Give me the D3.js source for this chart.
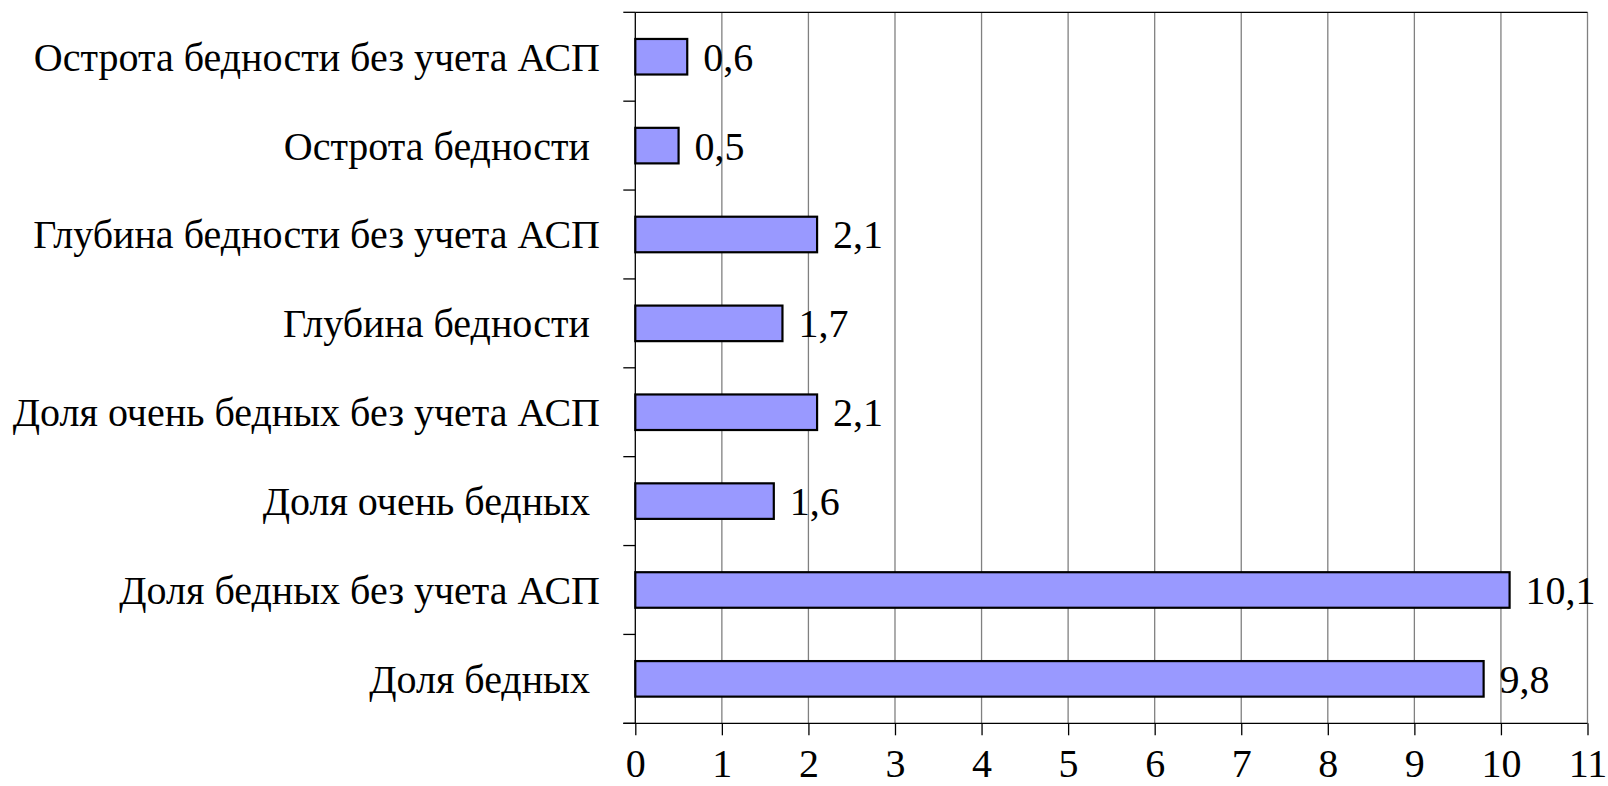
<!DOCTYPE html>
<html><head><meta charset="utf-8">
<script src="https://cdn.jsdelivr.net/npm/d3@7"></script>
<style>
html,body{margin:0;padding:0;background:#fff;}
svg{display:block;}
svg text{font-family:"Liberation Serif","Times New Roman",serif !important;fill:#000;}
</style></head>
<body>
<svg id="chart" width="1608" height="786"></svg>
<script>
const categories = [
  "Острота бедности без учета АСП",
  "Острота бедности ",
  "Глубина бедности без учета АСП",
  "Глубина бедности ",
  "Доля очень бедных без учета АСП",
  "Доля очень бедных ",
  "Доля бедных без учета АСП",
  "Доля бедных "
];
const values = [0.6, 0.5, 2.1, 1.7, 2.1, 1.6, 10.1, 9.8];
const xTicks = [0,1,2,3,4,5,6,7,8,9,10,11];

(function () {
const svg = d3.select("#chart");
const pLeft = 635.3, pRight = 1587.5, pTop = 12.3, pBottom = 723.3;
const fs = 40;
const serif = "'Liberation Serif', 'Times New Roman', serif";

const x = d3.scaleLinear().domain([0, 11]).range([pLeft, pRight]);
const y = d3.scaleBand().domain(categories).range([pTop, pBottom]).paddingInner(0.6).paddingOuter(0.3);
const yb = d3.scaleBand().domain(categories).range([pTop, pBottom]);

// gridlines
svg.append("g").selectAll("line").data(xTicks.slice(1)).join("line")
  .attr("x1", d => x(d)).attr("x2", d => x(d))
  .attr("y1", pTop).attr("y2", pBottom)
  .attr("stroke", "#808080").attr("stroke-width", 1.3);

// top border
svg.append("line").attr("x1", pLeft).attr("x2", pRight).attr("y1", pTop).attr("y2", pTop)
  .attr("stroke", "#000").attr("stroke-width", 1.3);

// bars
svg.append("g").selectAll("rect").data(values).join("rect")
  .attr("x", x(0))
  .attr("y", (d, i) => y(categories[i]))
  .attr("width", d => x(d) - x(0))
  .attr("height", y.bandwidth())
  .attr("fill", "#9999FF")
  .attr("stroke", "#000").attr("stroke-width", 2.2);

// value labels
const fmt = v => d3.format(".1f")(v).replace(".", ",");
svg.append("g").selectAll("text").data(values).join("text")
  .attr("x", d => x(d) + 16)
  .attr("y", (d, i) => y(categories[i]) + y.bandwidth() / 2)
  .attr("dy", "0.35em")
  .style("font-family", serif)
  .style("font-size", fs + "px")
  .text(d => fmt(d));

// x axis
const xAxis = d3.axisBottom(x).tickValues(xTicks).tickSize(12).tickPadding(13).tickFormat(d3.format("d"));
const gx = svg.append("g").attr("transform", `translate(0,${pBottom})`).call(xAxis);
gx.attr("font-family", null).attr("font-size", null);
gx.select(".domain").attr("stroke", "#000").attr("stroke-width", 1.3).attr("d", `M${pLeft - 12},0H${pRight}`);
gx.selectAll(".tick line").attr("stroke", "#000").attr("stroke-width", 1.3);
gx.selectAll(".tick text").style("font-family", serif).style("font-size", fs + "px").attr("fill", "#000");

// y axis line and boundary ticks
svg.append("line").attr("x1", pLeft).attr("x2", pLeft).attr("y1", pTop).attr("y2", pBottom)
  .attr("stroke", "#000").attr("stroke-width", 1.3);
const bounds = categories.map(c => yb(c)).concat([pBottom]);
svg.append("g").selectAll("line").data(bounds).join("line")
  .attr("x1", pLeft - 12).attr("x2", pLeft)
  .attr("y1", d => d).attr("y2", d => d)
  .attr("stroke", "#000").attr("stroke-width", 1.3);

// category labels
svg.append("g").selectAll("text").data(categories).join("text")
  .attr("x", 600)
  .attr("y", d => yb(d) + yb.bandwidth() / 2)
  .attr("dy", "0.35em")
  .attr("text-anchor", "end")
  .style("font-family", serif)
  .style("font-size", fs + "px")
  .style("white-space", "pre")
  .text(d => d);
})();
</script>
</body></html>
